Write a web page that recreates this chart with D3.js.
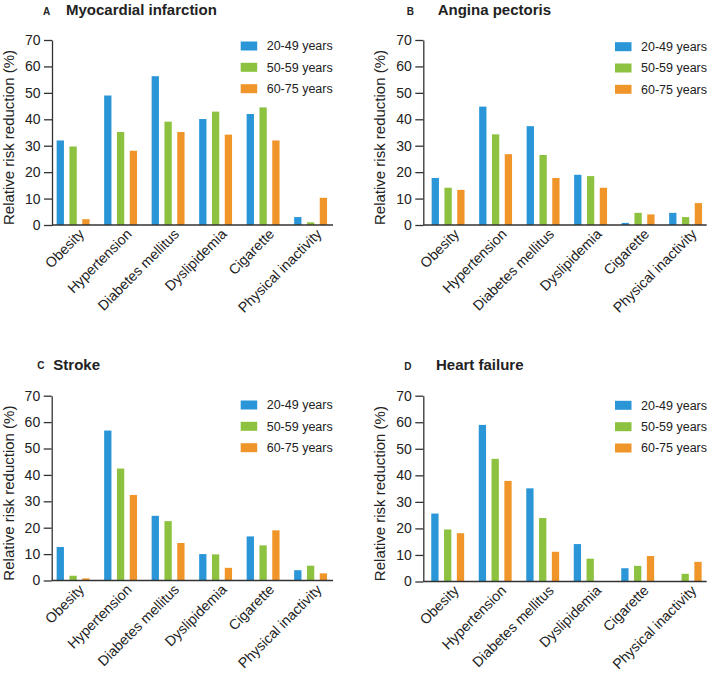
<!DOCTYPE html>
<html>
<head>
<meta charset="utf-8">
<script src="https://cdn.jsdelivr.net/npm/d3@7"></script>
<style>
  html, body { margin: 0; padding: 0; background: #fff; }
  svg { display: block; }
  text { font-family: "Liberation Sans", Arial, Helvetica, sans-serif; fill: #222; }
</style>
</head>
<body>
<svg id="chart" width="709" height="675"></svg>
<script>
// ---------- data ----------
const categories = ["Obesity", "Hypertension", "Diabetes mellitus", "Dyslipidemia", "Cigarette", "Physical inactivity"];
const series = ["20-49 years", "50-59 years", "60-75 years"];
const yTicks = [0, 10, 20, 30, 40, 50, 60, 70];

const panelLetters = ["A", "B", "C", "D"];
const panelTitles = ["Myocardial infarction", "Angina pectoris", "Stroke", "Heart failure"];

// Myocardial infarction
const miYoung = [32.0, 49.0, 56.3, 40.1, 42.0, 3.0];
const miMid   = [29.7, 35.2, 39.1, 42.9, 44.5, 1.0];
const miOld   = [2.2, 28.1, 35.2, 34.2, 32.0, 10.3];
// Angina pectoris
const apYoung = [17.8, 44.8, 37.4, 19.0, 0.8, 4.6];
const apMid   = [14.1, 34.3, 26.5, 18.5, 4.6, 3.0];
const apOld   = [13.3, 26.8, 17.8, 14.1, 4.0, 8.3];
// Stroke
const stYoung = [12.7, 56.8, 24.5, 10.0, 16.7, 3.9];
const stMid   = [1.8, 42.4, 22.5, 9.9, 13.3, 5.6];
const stOld   = [0.8, 32.4, 14.2, 4.8, 19.0, 2.7];
// Heart failure
const hfYoung = [25.6, 59.0, 35.1, 14.1, 5.0, 0];
const hfMid   = [19.6, 46.2, 23.9, 8.6, 5.9, 2.9];
const hfOld   = [18.2, 37.9, 11.2, 0, 9.6, 7.4];

const colors = ["#2a96d8", "#8cc23f", "#f0952a"];

// ---------- layout ----------
const panels = [
  { values: [miYoung, miMid, miOld], axisX: 52,    axisEnd: 333,   firstC: 73.1,  y0: 225, y70: 40,
    legX: 240.7, legY: [46, 67.3, 88.7], letterX: 43, titleX: 66, titleY: 15 },
  { values: [apYoung, apMid, apOld], axisX: 423.3, axisEnd: 706.7, firstC: 448.1, y0: 225, y70: 40,
    legX: 615, legY: [46.7, 68, 89.3], letterX: 406.7, titleX: 437.7, titleY: 15 },
  { values: [stYoung, stMid, stOld], axisX: 51.7,  axisEnd: 333,   firstC: 73.1,  y0: 580.5, y70: 395.7,
    legX: 240.7, legY: [405, 426.3, 447.7], letterX: 37.3, titleX: 53.3, titleY: 369.5 },
  { values: [hfYoung, hfMid, hfOld], axisX: 423.3, axisEnd: 706.7, firstC: 447.7, y0: 581.5, y70: 395.7,
    legX: 615, legY: [405.3, 426.7, 448], letterX: 404.3, titleX: 436, titleY: 370 }
];

const step = 47.5;
const svg = d3.select("#chart");

panels.forEach((p, pi) => {
  const g = svg.append("g");

  const y = d3.scaleLinear().domain([0, 70]).range([p.y0, p.y70]);
  const x = d3.scaleBand().domain(categories)
    .range([p.firstC - step / 2, p.firstC - step / 2 + step * categories.length])
    .paddingInner(0).paddingOuter(0);
  const xs = d3.scaleBand().domain(series).range([-16.45, 16.45]).paddingInner(0.43).paddingOuter(0);

  // bars
  series.forEach((s, si) => {
    g.append("g").selectAll("rect")
      .data(categories.map((c, ci) => ({ c, v: p.values[si][ci] })).filter(d => d.v > 0))
      .join("rect")
      .attr("x", d => x(d.c) + x.bandwidth() / 2 + xs(s))
      .attr("width", xs.bandwidth())
      .attr("y", d => y(d.v))
      .attr("height", d => y(0) - y(d.v))
      .attr("fill", colors[si]);
  });

  // y axis
  const yAxis = d3.axisLeft(y).tickValues(yTicks).tickSize(8).tickPadding(3.5).tickSizeOuter(0);
  const ya = g.append("g").attr("transform", `translate(${p.axisX},0)`).call(yAxis);
  ya.select(".domain").attr("stroke", "#333").attr("stroke-width", 1.3);
  ya.selectAll(".tick line").attr("stroke", "#333").attr("stroke-width", 1.3);
  ya.selectAll(".tick text").style("font-size", "14px").attr("fill", "#222");

  // x axis line
  const xa = d3.axisBottom(x).tickSize(0).tickFormat("");
  const xg = g.append("g").attr("transform", `translate(0,${p.y0})`).call(xa);
  xg.select(".domain").attr("d", `M${p.axisX},0H${p.axisEnd}`).attr("stroke", "#333").attr("stroke-width", 1.3);

  // category labels
  g.append("g").selectAll("text")
    .data(categories)
    .join("text")
    .attr("transform", d => `translate(${x(d) + x.bandwidth() / 2 + 12},${p.y0 + 10}) rotate(-45)`)
    .attr("text-anchor", "end")
    .style("font-size", "14.2px")
    .text(d => d);

  // y axis title
  g.append("text")
    .attr("transform", `translate(${p.axisX - 38},${(p.y0 + p.y70) / 2 + 5}) rotate(-90)`)
    .attr("text-anchor", "middle")
    .style("font-size", "15px")
    .text("Relative risk reduction (%)");

  // panel title
  g.append("text")
    .attr("x", p.letterX).attr("y", p.titleY - 0.5)
    .style("font-size", "10px").style("font-weight", "bold")
    .text(panelLetters[pi]);
  g.append("text")
    .attr("x", p.titleX).attr("y", p.titleY)
    .style("font-size", "15px").style("font-weight", "bold")
    .text(panelTitles[pi]);

  // legend
  series.forEach((s, si) => {
    g.append("rect")
      .attr("x", p.legX).attr("y", p.legY[si] - 4.5)
      .attr("width", 16.5).attr("height", 9)
      .attr("fill", colors[si]);
    g.append("text")
      .attr("x", p.legX + 26).attr("y", p.legY[si])
      .attr("dy", "0.35em")
      .style("font-size", "12.5px")
      .text(s);
  });
});
</script>
</body>
</html>
